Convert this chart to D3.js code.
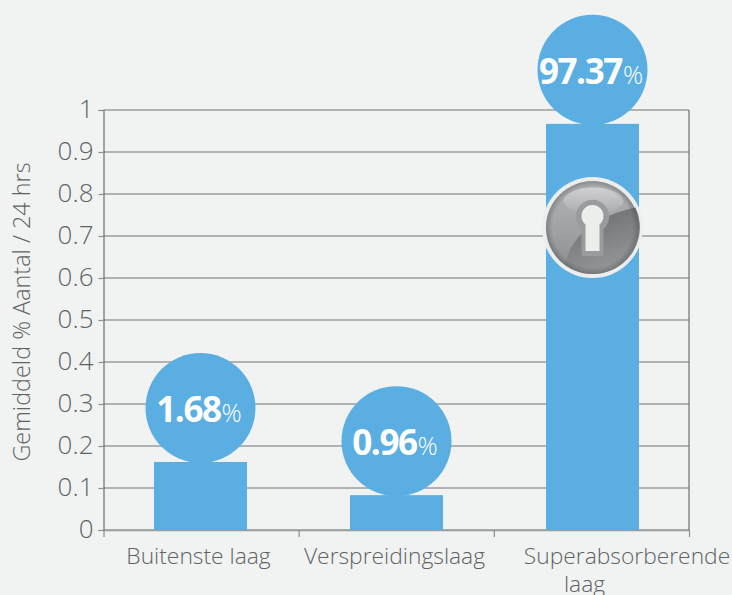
<!DOCTYPE html>
<html>
<head>
<meta charset="utf-8">
<script src="https://cdn.jsdelivr.net/npm/d3@7"></script>
<style>
  html, body { margin: 0; padding: 0; background: #f1f3f3; }
  svg { display: block; }
  text { font-family: "Open Sans", sans-serif; font-weight: 300; fill: #5f6364; }
</style>
</head>
<body>
<div id="chart"></div>
<script>
var categories = ["Buitenste laag", "Verspreidingslaag", "Superabsorberende laag"];
var values = [0.162, 0.083, 0.967];
var bubbleLabels = ["1.68", "0.96", "97.37"];
var yTicks = [0, 0.1, 0.2, 0.3, 0.4, 0.5, 0.6, 0.7, 0.8, 0.9, 1];
var yTitle = "Gemiddeld % Aantal / 24 hrs";
var lockedCategory = "Superabsorberende laag";
var lockedValue = 0.72;

var width = 732, height = 595,
  plotLeft = 103.5, plotRight = 689, plotTop = 110, plotBottom = 530,
  radius = 55;

var svg = d3.select("#chart").append("svg")
  .attr("width", width)
  .attr("height", height);

// bars sit a touch off the tick marks in the original
var x = d3.scaleBand()
  .domain(categories)
  .range([102.5, 690.5])
  .paddingInner(0.5255)
  .paddingOuter(0.2628);

var y = d3.scaleLinear()
  .domain([0, 1])
  .range([plotBottom, plotTop]);

var defs = svg.append("defs");

function gradient(id, stops, x2, y2) {
  var g = defs.append("linearGradient").attr("id", id)
    .attr("x1", 0).attr("y1", 0).attr("x2", x2).attr("y2", y2);
  stops.forEach(function (s) {
    g.append("stop").attr("offset", s[0]).attr("stop-color", s[1]).attr("stop-opacity", s[2] === undefined ? 1 : s[2]);
  });
}
gradient("discFill", [[0, "#b3b4b6"], [0.5, "#a2a3a5"], [1, "#8a8b8e"]], 0, 1);
gradient("shadeFill", [[0, "#68696c"], [1, "#949597"]], 0.4, 1);
gradient("glossFill", [[0, "#ffffff", 0.4], [1, "#ffffff", 0.04]], 0, 1);

var edge = defs.append("radialGradient").attr("id", "edgeFill");
edge.append("stop").attr("offset", 0.86).attr("stop-color", "#3c3d40").attr("stop-opacity", 0);
edge.append("stop").attr("offset", 1).attr("stop-color", "#3c3d40").attr("stop-opacity", 0.35);

// grid lines and right border
svg.append("g").attr("class", "grid")
  .selectAll("line")
  .data(yTicks)
  .enter().append("line")
    .attr("x1", plotLeft)
    .attr("x2", plotRight)
    .attr("y1", function (d) { return y(d); })
    .attr("y2", function (d) { return y(d); })
    .attr("stroke", "#9b9d9d")
    .attr("stroke-width", 1.4);

svg.append("line")
  .attr("x1", plotRight).attr("x2", plotRight)
  .attr("y1", plotTop).attr("y2", plotBottom)
  .attr("stroke", "#6d6f70")
  .attr("stroke-width", 1.2);

// axes
var yAxis = d3.axisLeft(y)
  .tickValues(yTicks)
  .tickFormat(function (d) { return String(d); })
  .tickSize(5)
  .tickPadding(5);

var yG = svg.append("g")
  .attr("transform", "translate(" + plotLeft + ",0)")
  .call(yAxis);
yG.selectAll("text").style("font-size", "26px").attr("dy", "0.3em");
yG.selectAll("line").attr("stroke", "#8c8e8e").attr("stroke-width", 1.2);
yG.select(".domain").attr("stroke", "#6d6f70").attr("stroke-width", 1.2);

var xEdges = d3.axisBottom(d3.scaleLinear().domain([0, 3]).range([plotLeft, plotRight]))
  .tickValues([0, 1, 2, 3])
  .tickFormat("")
  .tickSize(7)
  .tickSizeOuter(0);

var xG = svg.append("g")
  .attr("transform", "translate(0," + plotBottom + ")")
  .call(xEdges);
xG.selectAll("line").attr("stroke", "#8c8e8e").attr("stroke-width", 1.2);
xG.select(".domain").attr("stroke", "#9b9d9d").attr("stroke-width", 1.4);

// category labels, long one breaks on the last space
var labels = svg.append("g").selectAll("text")
  .data(categories)
  .enter().append("text")
    .attr("text-anchor", "middle")
    .attr("transform", function (d) {
      return "translate(" + (x(d) + x.bandwidth() / 2) + "," + (plotBottom + 34) + ")";
    })
    .style("font-size", "22.8px");

labels.each(function (d) {
  var t = d3.select(this);
  if (d !== lockedCategory) {
    t.append("tspan").attr("x", -2).text(d);
  } else {
    t.append("tspan").attr("x", 34.5).text(d.split(" ")[0]);
    t.append("tspan").attr("x", -8).attr("dy", 28).text(d.split(" ")[1]);
  }
});

// y title
svg.append("text")
  .attr("transform", "translate(30,312) rotate(-90)")
  .attr("text-anchor", "middle")
  .style("font-size", "23.4px")
  .text(yTitle);

// bars
svg.append("g").selectAll("rect")
  .data(values)
  .enter().append("rect")
    .attr("x", function (d, i) { return x(categories[i]); })
    .attr("y", function (d) { return y(d); })
    .attr("width", x.bandwidth())
    .attr("height", function (d) { return y(0) - y(d); })
    .attr("fill", "#5baee1");

// bubbles on top of the bars
var bubbles = svg.append("g").selectAll("g")
  .data(values)
  .enter().append("g")
    .attr("transform", function (d, i) {
      return "translate(" + (x(categories[i]) + x.bandwidth() / 2) + "," + (y(d) - radius + 1) + ")";
    });

bubbles.append("circle")
  .attr("r", radius)
  .attr("fill", "#5baee1");

var bubbleText = bubbles.append("text")
  .attr("text-anchor", "middle")
  .attr("x", -1.5)
  .attr("y", 14);

bubbleText.append("tspan")
  .style("font-size", "35px")
  .style("font-weight", 700)
  .style("letter-spacing", "-1.4px")
  .style("fill", "#fff")
  .text(function (d, i) { return bubbleLabels[i]; });

bubbleText.append("tspan")
  .attr("dx", 1)
  .style("font-size", "25px")
  .style("font-weight", 300)
  .style("fill", "#fff")
  .text("%");

// lock badge
var lock = svg.append("g")
  .attr("transform", "translate(" + (x(lockedCategory) + x.bandwidth() / 2) + "," + y(lockedValue) + ")");

lock.append("circle").attr("r", 50.5).attr("fill", "#eceeed");
lock.append("circle").attr("r", 46.5).attr("fill", "url(#discFill)");
lock.append("path")
  .attr("d", "M-27,37 C-22,8 5,-12 43,-20 A46.5,46.5 0 0 1 -27,37 Z")
  .attr("fill", "url(#shadeFill)");
lock.append("ellipse")
  .attr("cx", 1).attr("cy", -27).attr("rx", 30).attr("ry", 13)
  .attr("fill", "url(#glossFill)");
lock.append("circle").attr("r", 46.5).attr("fill", "url(#edgeFill)");
lock.append("path")
  .attr("d", "M-11,1.5 A16.7,16.7 0 1 1 11,1.5 L11,26 Q11,28.5 8.5,28.5 L-8.5,28.5 Q-11,28.5 -11,26 Z")
  .attr("fill", "#9a9b9d");
lock.append("path")
  .attr("d", "M-7,-3 A11,11 0 1 1 7,-3 L7,23.5 L-7,23.5 Z")
  .attr("fill", "#eceeec");
</script>
</body>
</html>
